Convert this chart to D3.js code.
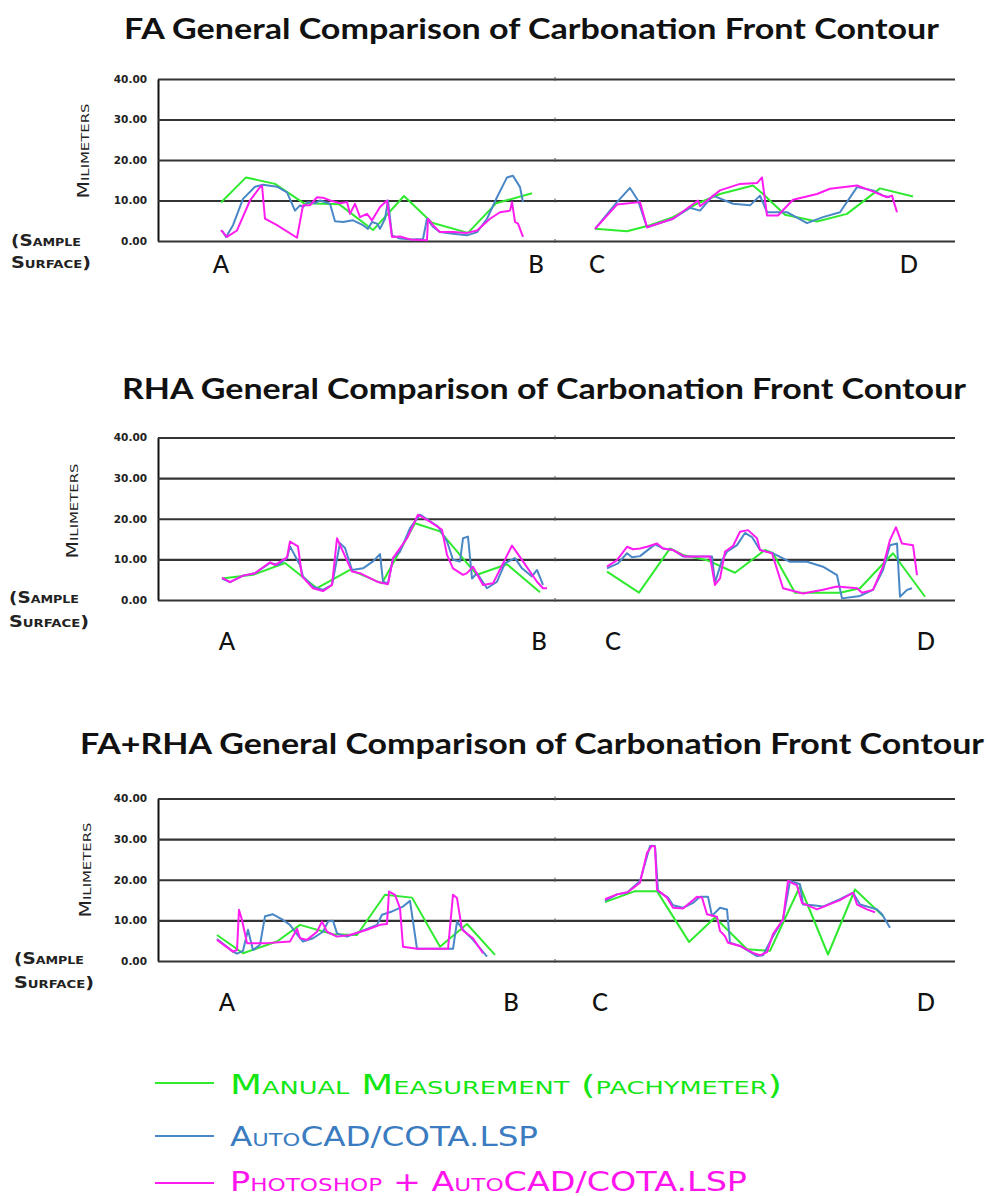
<!DOCTYPE html>
<html>
<head>
<meta charset="utf-8">
<script src="https://cdn.jsdelivr.net/npm/d3@7"></script>
<style>
  body { margin: 0; background: #fff; }
  svg { display: block; }
</style>
</head>
<body>
<svg id="chart" width="987" height="1196"></svg>
<script>
// Position along the sample contour (A-B on the left half, C-D on the right half)
// and carbonation depth in millimetres, for three measurement methods.

const X_MAX = 797;
const yTicks = [0, 10, 20, 30, 40];
const edgeLabels = ["A", "B", "C", "D"];
const seriesNames = [
  "Manual Measurement (pachymeter)",
  "AutoCAD/COTA.LSP",
  "Photoshop + AutoCAD/COTA.LSP"
];
const panelTitles = [
  "FA General Comparison of Carbonation Front Contour",
  "RHA General Comparison of Carbonation Front Contour",
  "FA+RHA General Comparison of Carbonation Front Contour"
];

// ---- FA ----
const faManualAB = [[63,9.5],[88,15.7],[117,14.1],[146,9.3],[181,9.1],[215,2.7],[246,11.1],[274,4.5],[310,2.0],[338,9.3],[374,11.8]];
const faManualCD = [[437,3.0],[469,2.4],[492,3.9],[515,5.9],[539,9.2],[562,11.6],[595,13.7],[605,11.6],[627,6.5],[659,4.8],[689,6.7],[722,13.0],[755,11.0]];
const faAutocadAB = [[64,2.6],[68,1.0],[75,3.9],[85,10.4],[97,13.4],[105,13.9],[119,13.4],[129,12],[137,7.5],[142,8.8],[145,8.4],[150,9.6],[157,9.3],[162,10],[172,9.2],[177,4.9],[185,4.7],[195,5.1],[205,3.9],[210,3.0],[214,4.7],[219,4.3],[222,3.0],[227,5.5],[230,10],[234,1.4],[242,0.6],[255,0.4],[265,0.5],[269,5.5],[275,3.5],[282,2.2],[295,1.8],[309,1.4],[319,2.2],[329,5.5],[339,10.8],[349,15.7],[355,16.1],[362,13.3],[365,9.6]];
const faAutocadCD = [[437,3.0],[459,9.6],[472,13.1],[480,10],[489,3.4],[515,5.5],[532,8.2],[542,7.5],[555,11.2],[575,9.2],[592,8.8],[602,11.2],[609,7.1],[629,7.1],[649,4.4],[665,5.9],[682,7.1],[699,13.3],[715,12.5],[725,11.2],[732,10.8]];
const faPhotoAB = [[63,2.7],[69,1.0],[79,2.6],[92,10],[102,13.3],[104,13.7],[107,5.5],[119,3.9],[139,0.8],[145,8.8],[152,8.8],[159,10.8],[165,10.7],[172,10],[182,9.3],[189,9.6],[192,6.7],[197,9.2],[202,5.9],[209,6.7],[214,5.1],[222,8.4],[229,10],[234,1.0],[242,1.1],[252,0.4],[269,0.2],[270,5.5],[275,3.9],[282,2.2],[295,2.2],[309,2.0],[319,2.6],[332,5.5],[342,7.1],[352,7.5],[354,9.6],[357,4.7],[360,4.3],[365,1.0]];
const faPhotoCD = [[437,3.0],[459,9.0],[482,9.6],[489,3.4],[515,5.5],[540,10],[542,8.6],[562,12.5],[582,14.1],[599,14.3],[604,15.7],[609,6.3],[620,6.3],[635,10.2],[659,11.6],[672,12.9],[699,13.7],[712,12.5],[729,10.8],[734,11.2],[739,7.1]];

// ---- RHA ----
const rhaManualAB = [[64,5.3],[95,6.2],[127,9.1],[159,2.9],[192,7.4],[224,4.1],[257,18.9],[282,16.9],[319,6.2],[349,8.8],[382,1.9]];
const rhaManualCD = [[449,7.0],[481,1.8],[512,12.7],[525,11.1],[549,9.8],[577,6.7],[607,12.3],[615,11.5],[637,1.8],[682,1.8],[702,2.9],[735,11.5],[767,0.8]];
const rhaAutocadAB = [[64,5.3],[72,4.4],[85,6.0],[97,6.6],[112,9.1],[120,8.6],[129,10.3],[132,13.2],[142,8.6],[145,5.8],[155,3.3],[165,2.5],[174,3.7],[182,14],[187,12.8],[194,7.4],[205,7.8],[215,9.5],[222,11.3],[225,4.5],[230,4.1],[235,10.3],[242,11.9],[252,17.7],[262,21],[280,18.1],[289,14.4],[295,9.9],[302,9.5],[305,15.2],[310,15.6],[314,5.3],[319,6.6],[329,2.9],[339,4.5],[347,9.1],[357,10.3],[364,7.8],[374,5.8],[379,7.4],[385,3.7]];
const rhaAutocadCD = [[449,7.8],[460,9],[469,11.5],[474,10.5],[482,10.8],[497,13.7],[505,12.7],[515,12.3],[525,10.7],[549,10.7],[554,10.7],[557,4.3],[564,9.8],[569,11.9],[579,13.5],[587,16.5],[594,15.5],[602,12.3],[615,11.5],[632,9.4],[649,9.4],[665,8.2],[679,6.1],[684,0.4],[702,1.0],[715,2.5],[725,7.4],[732,13.5],[739,13.9],[742,0.8],[749,2.5],[754,2.9]];
const rhaPhotoAB = [[64,5.5],[72,4.4],[85,6.0],[97,6.6],[112,9.3],[117,8.6],[129,10.5],[132,14.4],[140,13.2],[144,5.8],[155,2.9],[165,2.2],[174,3.7],[179,15.2],[185,11.9],[194,7.0],[202,6.6],[219,4.5],[230,3.9],[235,10.3],[249,15.2],[260,21],[272,19.3],[284,17.3],[289,11.1],[295,7.8],[305,6.2],[309,6.6],[315,8.2],[325,3.7],[335,4.1],[354,13.4],[365,9.5],[379,4.5],[385,2.9],[389,2.9]];
const rhaPhotoCD = [[449,8.2],[459,9.8],[469,13.1],[475,12.5],[482,12.7],[489,13.1],[499,13.9],[505,12.7],[515,12.3],[527,10.7],[552,10.7],[557,3.7],[562,5.3],[567,11.9],[575,13.3],[582,16.8],[590,17.2],[599,15.2],[602,12.3],[614,11.5],[625,2.9],[645,1.6],[665,2.5],[679,3.3],[699,2.9],[704,1.8],[715,2.5],[725,8.2],[732,14.8],[738,17.9],[744,13.9],[755,13.5],[759,6.1]];

// ---- FA+RHA ----
const bothManualAB = [[59,6.4],[85,1.9],[119,4.8],[142,8.9],[175,6.6],[199,6.4],[227,16.3],[254,15.6],[282,3.5],[309,9.1],[337,1.5]];
const bothManualCD = [[447,14.5],[477,17.2],[499,17.2],[531,4.7],[557,10.7],[589,2.9],[612,2.5],[642,18.4],[670,1.6],[697,17.6],[725,11.1]];
const bothAutocadAB = [[59,5.4],[75,2.3],[79,1.8],[85,2.5],[90,7.7],[95,2.7],[102,4.0],[107,11],[115,11.5],[125,10.1],[132,8.9],[137,7.2],[145,4.8],[155,5.6],[165,7.2],[170,9.7],[175,9.9],[179,6.8],[189,6.0],[202,7.2],[219,8.9],[224,11.4],[234,12.2],[245,13.4],[252,14.8],[259,3.0],[269,3.0],[295,3.0],[299,9.7],[305,7.7],[315,5.2],[329,1.1]];
const bothAutocadCD = [[447,14.8],[459,16.4],[469,16.8],[482,19.7],[492,28.3],[497,28.3],[500,17.2],[510,15.6],[515,13.7],[525,13.1],[535,14.3],[542,15.8],[550,15.8],[554,11.1],[562,13.1],[569,12.7],[572,4.5],[582,3.7],[599,1.2],[605,1.4],[615,6.1],[625,10.2],[632,19.7],[642,18.9],[645,13.9],[655,13.7],[665,13.4],[682,15.2],[695,16.8],[702,13.9],[719,12.7],[724,11.5],[732,8.2]];
const bothPhotoAB = [[59,5.2],[75,2.3],[79,2.7],[81,12.6],[84,10.1],[89,4.4],[109,4.4],[132,4.8],[139,7.9],[142,5.6],[149,5.2],[159,7.2],[164,9.7],[169,7.2],[179,6.0],[192,6.4],[209,7.7],[222,8.9],[229,9.1],[231,17.1],[237,16.3],[242,13],[245,3.5],[259,3.0],[290,3.0],[295,16.3],[299,15.5],[304,7.7],[315,5.6],[325,1.9]];
const bothPhotoCD = [[447,15.2],[459,16.4],[470,17],[482,19.3],[489,26.6],[494,28.4],[497,28.1],[499,17.6],[509,15.6],[515,13.1],[525,12.9],[539,15.8],[544,15.6],[549,11.5],[559,10.9],[562,7.4],[567,6.1],[570,4.5],[582,3.7],[595,2.0],[602,1.4],[609,2.2],[615,6.6],[625,10.2],[630,19.7],[639,18.6],[644,14.3],[659,12.7],[682,15],[695,16.8],[699,13.9],[709,12.7],[717,12.0]];

// Each panel: [manual, autocad, photoshop] series, each split into its A-B and C-D segments
const panelSeries = [
  [[faManualAB, faManualCD], [faAutocadAB, faAutocadCD], [faPhotoAB, faPhotoCD]],
  [[rhaManualAB, rhaManualCD], [rhaAutocadAB, rhaAutocadCD], [rhaPhotoAB, rhaPhotoCD]],
  [[bothManualAB, bothManualCD], [bothAutocadAB, bothAutocadCD], [bothPhotoAB, bothPhotoCD]]
];

// ---- styling / layout ----
const lineColors = ["#2fea2f", "#4a87c7", "#ff1cf0"];
const textColors = ["#14e614", "#3b7cc1", "#ff14ee"];
const plotLeft = 158, plotRight = 955;

const layout = [
  { top: 79,  bottom: 241, titleX: 124, titleW: 815, titleY: 39,
    milX: 84, milY: 151, sampleX: 11, sampleY: [246, 268],
    letterY: 273, letterX: [221, 536, 597, 909] },
  { top: 437.5, bottom: 600, titleX: 122, titleW: 844, titleY: 399,
    milX: 73, milY: 511, sampleX: 9, sampleY: [603, 627],
    letterY: 650, letterX: [227, 539, 613, 926] },
  { top: 798.5, bottom: 961, titleX: 80, titleW: 904, titleY: 754,
    milX: 86, milY: 870, sampleX: 14, sampleY: [964, 988],
    letterY: 1011, letterX: [227, 511, 600, 926] }
];

const svg = d3.select("#chart");
const x = d3.scaleLinear().domain([0, X_MAX]).range([plotLeft, plotRight]);
const midPos = 397;

layout.forEach((L, i) => {
  const g = svg.append("g");
  const y = d3.scaleLinear().domain([0, 40]).range([L.bottom, L.top]);

  // title
  g.append("text")
    .attr("x", L.titleX).attr("y", L.titleY)
    .attr("textLength", L.titleW).attr("lengthAdjust", "spacingAndGlyphs")
    .attr("font-family", "Lato, 'Open Sans', sans-serif")
    .attr("font-weight", "bold").attr("font-size", 28).attr("fill", "#111")
    .text(panelTitles[i]);

  // value axis with full-width gridlines
  const axis = d3.axisLeft(y)
    .tickValues(yTicks)
    .tickFormat(d3.format(".2f"))
    .tickSize(-(plotRight - plotLeft))
    .tickSizeOuter(0)
    .tickPadding(11);
  const ag = g.append("g").attr("transform", `translate(${plotLeft},0)`).call(axis);
  ag.selectAll(".tick line").attr("stroke", "#333").attr("stroke-width", 2.2);
  ag.select(".domain").attr("stroke", "#111").attr("stroke-width", 2);
  ag.selectAll(".tick text")
    .attr("font-family", "'DejaVu Sans', sans-serif")
    .attr("font-weight", "bold").attr("font-size", 10.5).attr("fill", "#222");

  // small division marks between the two halves
  g.selectAll(".mid").data(yTicks).join("line")
    .attr("x1", x(midPos)).attr("x2", x(midPos))
    .attr("y1", d => y(d) - 2).attr("y2", d => y(d) + 2)
    .attr("stroke", "#555").attr("stroke-width", 1);

  // axis title
  g.append("text")
    .attr("transform", `translate(${L.milX},${L.milY}) rotate(-90)`)
    .attr("text-anchor", "middle").attr("dy", "0.35em")
    .attr("textLength", 95).attr("lengthAdjust", "spacingAndGlyphs")
    .attr("font-family", "'DejaVu Sans', sans-serif")
    .attr("font-variant", "small-caps").attr("font-size", 15).attr("fill", "#222")
    .text("Milimeters");

  // surface reference label
  ["(Sample", "Surface)"].forEach((t, k) => {
    g.append("text")
      .attr("x", L.sampleX).attr("y", L.sampleY[k])
      .attr("textLength", k === 0 ? 70 : 80).attr("lengthAdjust", "spacingAndGlyphs")
      .attr("font-family", "'DejaVu Sans', sans-serif")
      .attr("font-weight", "bold").attr("font-variant", "small-caps")
      .attr("font-size", 16).attr("fill", "#222")
      .text(t);
  });

  // contour end points
  g.selectAll(".edge").data(edgeLabels).join("text")
    .attr("x", (d, k) => L.letterX[k]).attr("y", L.letterY)
    .attr("text-anchor", "middle")
    .attr("font-family", "Lato, 'Open Sans', sans-serif")
    .attr("font-weight", 500)
    .attr("font-size", 24).attr("fill", "#111")
    .text(d => d);

  // series
  const line = d3.line().x(d => x(d[0])).y(d => y(d[1]));
  panelSeries[i].forEach((segments, s) => {
    segments.forEach(seg => {
      g.append("path")
        .attr("d", line(seg))
        .attr("fill", "none")
        .attr("stroke", lineColors[s])
        .attr("stroke-width", 2)
        .attr("stroke-linejoin", "round");
    });
  });
});

// legend
const legendY = [1083, 1136, 1183];
const legendBase = [1094, 1146, 1191];
const legendW = [552, 308, 517];
const lg = svg.append("g");
seriesNames.forEach((name, s) => {
  lg.append("line")
    .attr("x1", 155).attr("x2", 214)
    .attr("y1", legendY[s]).attr("y2", legendY[s])
    .attr("stroke", lineColors[s]).attr("stroke-width", 2);
  lg.append("text")
    .attr("x", 230).attr("y", legendBase[s])
    .attr("textLength", legendW[s]).attr("lengthAdjust", "spacingAndGlyphs")
    .attr("font-family", "'DejaVu Sans', sans-serif")
    .attr("font-variant", "small-caps").attr("font-size", 26)
    .attr("fill", textColors[s])
    .text(name);
});
</script>
</body>
</html>
